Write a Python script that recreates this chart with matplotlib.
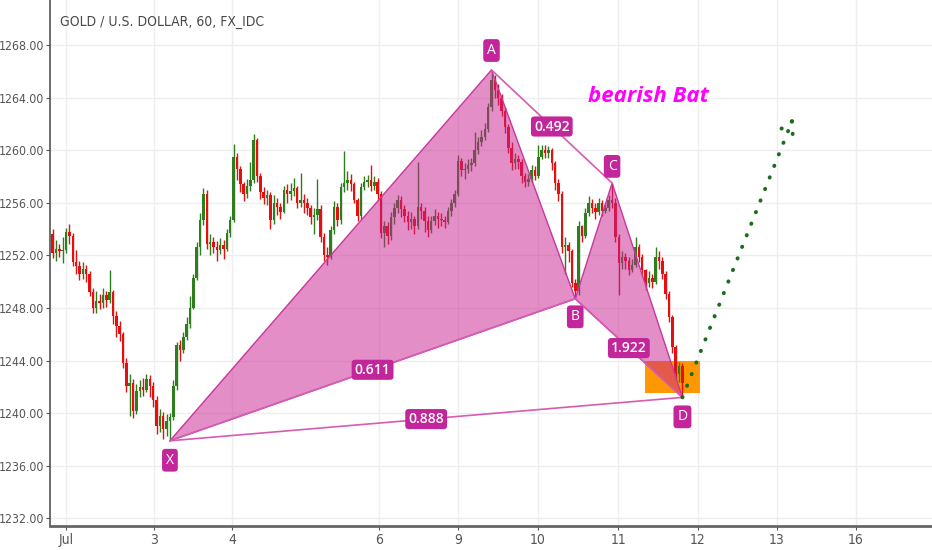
import numpy as np
import matplotlib

matplotlib.use("Agg")  # Non-interactive backend
import matplotlib.pyplot as plt
from matplotlib.patches import Polygon, Rectangle

# hourly candles, GOLD/USD (index 0 = first candle on the chart)
first_open = 1253.6
closes = [
    1252.2, 1252.5, 1252.3, 1252.4, 1253.8, 1253.5, 1251.5, 1251.2, 1250.6, 1251.0,
    1250.6, 1249.2, 1248.0, 1248.5, 1248.4, 1249.0, 1248.6, 1249.2, 1247.4, 1246.6,
    1246.0, 1243.8, 1242.1, 1242.3, 1240.2, 1241.7, 1242.0, 1241.8, 1242.6, 1242.1,
    1241.0, 1239.0, 1239.8, 1238.8, 1239.4, 1239.7, 1242.1, 1245.2, 1244.8, 1245.8,
    1246.8, 1248.0, 1250.3, 1252.6, 1254.7, 1256.7, 1252.9, 1253.0, 1252.6, 1252.4,
    1252.8, 1252.5, 1253.7, 1254.7, 1259.5, 1258.6, 1257.4, 1256.7, 1257.3, 1257.7,
    1260.8, 1258.0, 1256.8, 1256.4, 1256.6, 1254.7, 1256.0, 1255.7, 1255.3, 1257.0,
    1256.7, 1256.9, 1257.1, 1256.0, 1256.2, 1256.0, 1255.6, 1254.9, 1255.1, 1255.5,
    1253.4, 1252.0, 1251.9, 1253.9, 1255.7, 1254.7, 1257.2, 1257.5, 1257.7, 1257.4,
    1256.2, 1255.0, 1257.2, 1257.6, 1257.7, 1257.3, 1257.6, 1256.7, 1253.7, 1254.2,
    1253.5, 1254.9, 1255.6, 1256.2, 1255.5, 1255.0, 1254.5, 1254.8, 1254.2, 1255.7,
    1255.4, 1254.6, 1253.9, 1254.6, 1255.0, 1254.8, 1254.7, 1254.5, 1255.4, 1256.0,
    1256.7, 1259.2, 1258.5, 1258.6, 1258.9, 1259.0, 1260.0, 1260.6, 1261.0, 1261.6,
    1263.3, 1265.3, 1264.6, 1264.0, 1263.0, 1261.8, 1260.2, 1259.0, 1259.3, 1259.1,
    1258.0, 1257.6, 1257.8, 1258.5, 1258.0, 1259.5, 1260.0, 1259.8, 1260.0, 1259.0,
    1257.5, 1256.7, 1252.6, 1252.8, 1252.3, 1249.9, 1249.3, 1254.2, 1253.5, 1255.2,
    1256.0, 1255.6, 1255.3, 1256.0, 1255.4, 1255.6, 1256.2, 1256.0, 1253.4, 1251.4,
    1251.9, 1251.6, 1250.9, 1251.3, 1252.6, 1251.9, 1250.9, 1249.9, 1250.3, 1250.0,
    1251.9, 1251.6, 1250.6, 1249.1, 1247.3, 1245.0, 1243.0, 1243.6, 1242.3,
]
highs = [
    1254.0, 1253.2, 1252.9, 1253.4, 1254.1, 1254.4, 1253.7, 1252.4, 1251.6, 1251.5,
    1251.3, 1250.8, 1249.5, 1249.3, 1249.1, 1249.5, 1249.3, 1250.9, 1249.4, 1247.8,
    1247.0, 1246.2, 1244.2, 1243.0, 1242.6, 1242.2, 1242.5, 1242.7, 1243.0, 1242.9,
    1242.4, 1241.3, 1240.3, 1240.1, 1239.9, 1240.0, 1242.5, 1245.4, 1245.6, 1246.2,
    1247.3, 1248.9, 1250.6, 1253.0, 1255.2, 1257.1, 1257.0, 1253.6, 1253.4, 1253.1,
    1253.3, 1253.2, 1254.0, 1255.0, 1260.5, 1259.8, 1258.8, 1257.6, 1257.8, 1259.1,
    1261.2, 1260.9, 1258.3, 1257.2, 1257.0, 1256.8, 1256.6, 1256.4, 1256.0, 1257.3,
    1257.4, 1257.5, 1257.9, 1257.3, 1258.3, 1256.7, 1256.4, 1255.8, 1255.6, 1257.8,
    1255.8, 1253.7, 1252.6, 1254.2, 1256.1, 1256.0, 1257.5, 1259.9, 1258.4, 1258.2,
    1257.6, 1256.4, 1257.5, 1258.0, 1258.1, 1258.9, 1258.0, 1257.9, 1256.9, 1254.6,
    1254.5, 1255.3, 1256.0, 1256.6, 1256.5, 1255.8, 1255.4, 1255.3, 1255.0, 1259.1,
    1256.0, 1255.7, 1255.0, 1255.0, 1255.5, 1255.3, 1255.2, 1255.0, 1255.7, 1256.3,
    1257.0, 1259.6, 1259.4, 1259.0, 1259.3, 1259.4, 1261.4, 1261.0, 1261.5, 1262.1,
    1263.6, 1266.1, 1265.7, 1265.0, 1264.3, 1263.3, 1262.0, 1260.6, 1259.8, 1259.6,
    1259.3, 1258.3, 1258.2, 1258.9, 1258.8, 1260.4, 1260.4, 1260.4, 1260.3, 1260.2,
    1259.2, 1257.8, 1256.9, 1253.4, 1253.0, 1252.5, 1250.2, 1254.6, 1254.3, 1255.6,
    1256.5, 1256.3, 1256.0, 1256.4, 1256.2, 1256.0, 1256.6, 1257.5, 1256.4, 1253.6,
    1252.3, 1252.2, 1251.9, 1251.7, 1253.4, 1252.9, 1252.1, 1251.0, 1250.8, 1250.6,
    1252.6, 1252.3, 1251.9, 1250.8, 1249.3, 1247.5, 1245.2, 1243.9, 1243.8,
]
lows = [
    1251.8, 1251.6, 1251.9, 1251.4, 1252.2, 1252.9, 1251.2, 1250.6, 1250.1, 1250.2,
    1250.0, 1248.9, 1247.6, 1247.6, 1247.9, 1248.0, 1248.1, 1248.4, 1246.8, 1245.8,
    1245.5, 1243.4, 1241.6, 1239.8, 1239.6, 1239.9, 1241.2, 1241.3, 1241.6, 1241.2,
    1240.5, 1238.4, 1238.6, 1238.0, 1238.3, 1237.9, 1239.5, 1241.8, 1244.0, 1244.6,
    1245.6, 1246.5, 1247.9, 1250.1, 1252.0, 1254.3, 1252.5, 1252.0, 1252.2, 1251.6,
    1252.1, 1251.7, 1252.3, 1253.4, 1254.5, 1257.7, 1256.8, 1256.1, 1256.4, 1256.9,
    1257.5, 1257.6, 1256.3, 1255.9, 1255.8, 1254.0, 1254.4, 1255.1, 1254.8, 1255.2,
    1256.0, 1256.2, 1256.5, 1255.6, 1255.7, 1255.2, 1255.1, 1254.4, 1253.6, 1254.7,
    1253.0, 1251.6, 1251.3, 1251.7, 1253.6, 1254.2, 1254.4, 1256.8, 1257.0, 1256.9,
    1256.0, 1254.6, 1254.8, 1257.0, 1257.2, 1256.9, 1257.0, 1256.3, 1253.3, 1252.6,
    1252.9, 1253.2, 1254.4, 1255.2, 1254.9, 1254.5, 1253.9, 1254.0, 1253.6, 1254.0,
    1254.8, 1253.8, 1253.4, 1253.7, 1254.3, 1254.1, 1254.2, 1254.1, 1254.4, 1255.0,
    1255.7, 1256.5, 1258.0, 1257.8, 1258.3, 1258.4, 1258.8, 1259.7, 1260.3, 1260.8,
    1261.4, 1263.0, 1264.0, 1263.4, 1262.6, 1261.3, 1259.8, 1258.5, 1258.6, 1258.6,
    1257.5, 1257.2, 1257.3, 1257.6, 1257.7, 1257.9, 1259.3, 1259.4, 1259.4, 1258.5,
    1257.0, 1256.1, 1252.2, 1250.6, 1251.5, 1249.6, 1248.7, 1249.0, 1253.0, 1253.3,
    1255.0, 1255.2, 1254.8, 1255.1, 1255.0, 1255.2, 1255.4, 1255.6, 1253.0, 1249.0,
    1251.0, 1251.0, 1250.5, 1250.7, 1251.1, 1251.5, 1250.4, 1249.4, 1249.6, 1249.5,
    1249.8, 1251.0, 1250.2, 1248.7, 1246.9, 1244.6, 1242.6, 1242.4, 1241.2,
]

day_labels = ["Jul", "3", "4", "6", "9", "10", "11", "12", "13", "16"]
day_pos = [4.0, 30.2, 53.5, 97.4, 121.0, 144.9, 168.8, 192.6, 216.2, 239.8]
price_ticks = [1232, 1236, 1240, 1244, 1248, 1252, 1256, 1260, 1264, 1268]

# bearish Bat pattern points (candle index, price)
pattern_names = ["X", "A", "B", "C", "D"]
pattern_x = [35, 131, 156, 167, 188]
pattern_y = [1237.9, 1266.1, 1248.7, 1257.5, 1241.2]
ratio_texts = ["0.611", "0.492", "1.922", "0.888"]
ratio_legs = [("X", "B"), ("A", "C"), ("B", "D"), ("X", "D")]

# potential reversal zone and projected move
prz_x = [176.8, 193.2]
prz_y = [1241.5, 1244.0]
proj_x = [188, 220.7]
proj_y = [1241.2, 1262.2]
arrow_arm_x = [216.5, 221.0]
arrow_arm_y = [1261.45, 1260.8]

UP = "#2e7d1f"
DOWN = "#e3100f"
PINK = "#c91f91"
LABEL_BG = "#c2269a"


def main():
    narrow = ["DejaVu Sans"]
    fig = plt.figure(figsize=(9.32, 5.5), dpi=100)
    ax = fig.add_axes([50 / 932, 24 / 550, 882 / 932, 526 / 550])

    n = len(closes)
    idx = np.arange(n)
    c = np.array(closes)
    o = np.array([first_open] + closes[:-1])
    h = np.maximum(np.array(highs), np.maximum(o, c))
    lo = np.minimum(np.array(lows), np.minimum(o, c))
    col = np.where(c >= o, UP, DOWN)

    # candles
    ax.vlines(idx, lo, h, colors=col, linewidth=1.0, zorder=2)
    body = np.maximum(np.abs(c - o), 0.08)
    ax.bar(idx, body, bottom=np.minimum(o, c), width=0.75, color=col,
           linewidth=0, zorder=2)

    # PRZ box
    ax.add_patch(Rectangle((prz_x[0], prz_y[0]), prz_x[1] - prz_x[0],
                           prz_y[1] - prz_y[0], facecolor="#ff9800",
                           edgecolor="none", zorder=1))

    pts = dict(zip(pattern_names, zip(pattern_x, pattern_y)))

    # pattern triangles XAB and BCD
    for tri in (("X", "A", "B"), ("B", "C", "D")):
        ax.add_patch(Polygon([pts[k] for k in tri], closed=True,
                             facecolor=PINK, alpha=0.5, edgecolor="none",
                             zorder=3))
        ax.add_patch(Polygon([pts[k] for k in tri], closed=True,
                             facecolor="none", edgecolor="#c8379e",
                             linewidth=1.0, zorder=4))

    # diagonal ratio legs
    for (p, q), txt in zip(ratio_legs, ratio_texts):
        (x0, y0), (x1, y1) = pts[p], pts[q]
        ax.plot([x0, x1], [y0, y1], color="#d65bb2", linewidth=1.2, zorder=4)
        ax.text((x0 + x1) / 2, (y0 + y1) / 2, txt, color="white",
                fontsize=10, fontweight="semibold", family=["Open Sans", "DejaVu Sans"],
                ha="center", va="center", zorder=6,
                bbox=dict(boxstyle="round,pad=0.22,rounding_size=0.25",
                          fc=LABEL_BG, ec="none"))

    # point labels
    offsets = {"X": -14, "A": 14, "B": -13, "C": 12, "D": -14}
    for name in pattern_names:
        ax.annotate(name, pts[name], xytext=(0, offsets[name]),
                    textcoords="offset points", color="white", fontsize=10,
                    family=["Open Sans", "DejaVu Sans"],
                    ha="center", va="center", zorder=6,
                    bbox=dict(boxstyle="round,pad=0.28,rounding_size=0.25",
                              fc=LABEL_BG, ec="none"))

    # projected move (dotted arrow)
    dots = dict(color="#1e6b1e", linewidth=2.8, linestyle=(0, (0.1, 3.1)),
                dash_capstyle="round", zorder=5)
    ax.plot(proj_x, proj_y, **dots)
    for ax_x, ax_y in zip(arrow_arm_x, arrow_arm_y):
        ax.plot([proj_x[1], ax_x], [proj_y[1], ax_y], **dots)

    fig.text(648 / 932, 1 - 97 / 550, "bearish Bat", color="#ff00ff",
             fontsize=16, fontweight="bold", style="italic",
             family=["Open Sans", "DejaVu Sans"], ha="center", va="center")
    fig.text(60 / 932, 1 - 22 / 550, "GOLD / U.S. DOLLAR, 60, FX_IDC",
             color="#484848", fontsize=10, family=narrow, stretch="condensed",
             ha="left", va="center")

    # axes styling
    ax.set_xlim(-0.8, 262.5)
    ax.set_ylim(1231.42, 1271.42)
    ax.set_yticks(price_ticks)
    ax.set_yticklabels([f"{p:.2f}" for p in price_ticks], family=narrow,
                       stretch="condensed", fontsize=8.8, color="#555555")
    ax.set_xticks(day_pos)
    ax.set_xticklabels(day_labels, family=narrow, stretch="condensed",
                       fontsize=10, color="#555555")
    ax.tick_params(axis="both", length=3, width=0.8, color="#555555", pad=2)
    ax.tick_params(axis="y", pad=1.5)
    ax.grid(True, color="#eeeeee", linewidth=1.0, zorder=0)
    ax.set_axisbelow(True)
    for side in ("top", "right"):
        ax.spines[side].set_visible(False)
    ax.spines["left"].set_color("#555555")
    ax.spines["left"].set_linewidth(1.2)
    ax.spines["bottom"].set_color("#666666")
    ax.spines["bottom"].set_linewidth(2.0)

    plt.savefig("out.png", dpi=100)


if __name__ == "__main__":
    main()
